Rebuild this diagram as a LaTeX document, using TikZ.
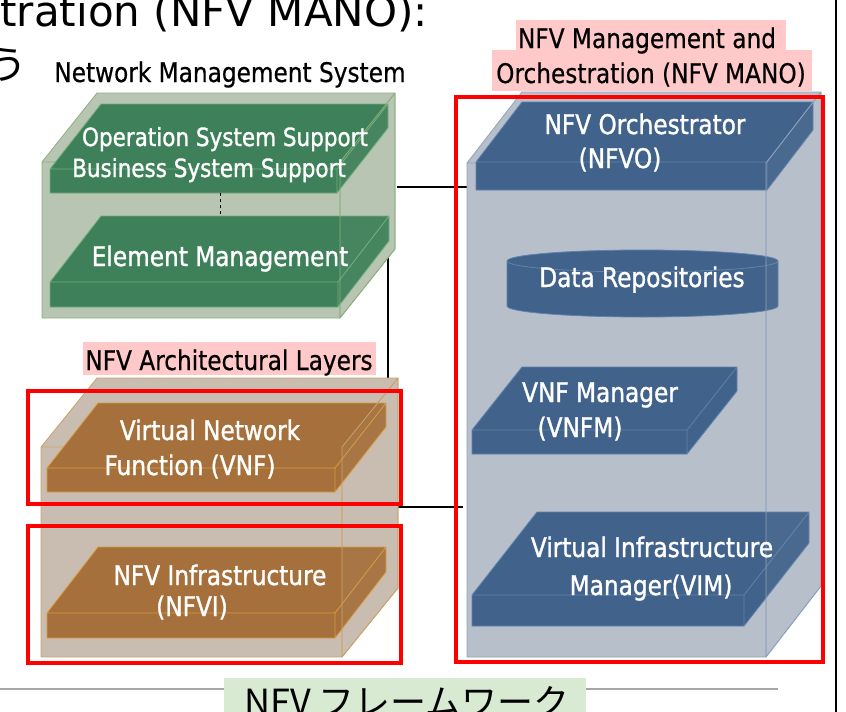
\documentclass[tikz,border=0pt]{standalone}
\usepackage{fontspec}
\newfontfamily\tah[FakeStretch=0.86,FakeBold=0.5]{DejaVu Sans}
\newfontfamily\tahw[FakeStretch=0.86,FakeBold=1.2]{DejaVu Sans}
\newfontfamily\verd{DejaVu Sans}
\newfontfamily\jpfont{Noto Sans CJK JP}

\definecolor{gOut}{HTML}{B7C5B2}
\definecolor{gOutE}{HTML}{8DB07E}
\definecolor{gSlab}{HTML}{3E805A}
\definecolor{gSlabE}{HTML}{6FB07A}
\definecolor{bOut}{HTML}{C9BDB1}
\definecolor{bOutE}{HTML}{C9A46A}
\definecolor{bSlab}{HTML}{A6703C}
\definecolor{bSlabE}{HTML}{D89C3C}
\definecolor{uOut}{HTML}{B7BFCB}
\definecolor{uOutE}{HTML}{8FA3BE}
\definecolor{uSlab}{HTML}{41628A}
\definecolor{uSlabE}{HTML}{5F82AE}
\definecolor{pinkbg}{HTML}{FFC9C9}
\definecolor{greenbg}{HTML}{D9EAD3}
\definecolor{rulegray}{HTML}{A6A6A6}

% cuboid: x y (front top-left), w h (front face), dx dy (depth), fill, edge
\newcommand{\cuboid}[8]{%
  \filldraw[fill=#7, draw=#8, line width=0.8pt, line join=round]
    (#1,#2) -- ++(#3,0) -- ++(0,#4) -- ++(-#3,0) -- cycle
    (#1,#2) -- ++(#5,-#6) -- ++(#3,0) -- ++(-#5,#6) -- cycle
    ({#1+#3},#2) -- ++(#5,-#6) -- ++(0,#4) -- ++(-#5,#6) -- cycle;
}
% faint right face and front edge laid over the inner slabs
\newcommand{\cuboidfront}[8]{%
  \filldraw[fill=#7, fill opacity=0.08, draw=#8, line width=0.8pt, line join=round]
    ({#1+#3},#2) -- ++(#5,-#6) -- ++(0,#4) -- ++(-#5,#6) -- cycle;
}

\tikzset{
  lbl/.style={font=\tah\fontsize{27}{32}\selectfont, inner sep=0pt, anchor=base},
  wtxt/.style={lbl, text=white, font=\tahw\fontsize{27}{32}\selectfont},
  smalltxt/.style={wtxt, font=\tahw\fontsize{25}{30}\selectfont},
  conn/.style={draw=black, line width=2.2pt},
  redframe/.style={draw=red, line width=4pt},
  rulel/.style={draw=rulegray, line width=2pt}
}

\begin{document}
\begin{tikzpicture}[x=1pt, y=-1pt]
\useasboundingbox (0,0) rectangle (846,712);
\fill[white] (0,0) rectangle (846,712);

% heading fragments
\node[font=\verd\fontsize{42}{48}\selectfont, inner sep=0pt, anchor=base east] (head) at (428,27) {tration (NFV MANO):};
\node[font=\jpfont\fontsize{40}{46}\selectfont, inner sep=0pt, anchor=base east] (headu) at (28,79) {う};

% right margin rule
\coordinate (rtop) at (836,0);
\coordinate (rbot) at (836,712);
\draw[draw=black, line width=2.5pt] (rtop) -- (rbot);

% connectors (behind the boxes)
\coordinate (nmsE) at (397,187);
\coordinate (manoW) at (468,187);
\coordinate (nmsS) at (388,258);
\coordinate (manoW2) at (463,507);
\draw[conn] (nmsE) -- (manoW) -- ++(0,3);
\draw[conn] (nmsS) |- (manoW2);

% Network Management System block
\node[lbl] (nmsT) at (230,82) {Network Management System};
\cuboid{42}{162}{298}{156}{55}{69}{gOut}{gOutE}
\cuboid{50}{169}{287}{24}{51}{65}{gSlab}{gSlabE}
\cuboid{50}{282}{288}{25}{51}{66}{gSlab}{gSlabE}
\coordinate (ossB) at (220,193);
\coordinate (emT) at (220,216);
\draw[black, dashed, line width=0.8pt] (ossB) -- (emT);
\cuboidfront{42}{162}{298}{156}{55}{69}{gOut}{gOutE}
\node[smalltxt] (oss) at (225,146) {Operation System Support};
\node[smalltxt] (bss) at (209,177) {Business System Support};
\node[wtxt] (em) at (220,266) {Element Management};

% NFV architectural layers block
\fill[pinkbg] (83,342) rectangle (376,375);
\node[lbl] (archT) at (229,370) {NFV Architectural Layers};
\cuboid{41}{447}{301}{210}{56}{69}{bOut}{bOutE}
\cuboid{47}{468}{288}{24}{51}{65}{bSlab}{bSlabE}
\cuboid{47}{613}{288}{25}{51}{66}{bSlab}{bSlabE}
\cuboidfront{41}{447}{301}{210}{56}{69}{bOut}{bOutE}
\node[wtxt] (vnf1) at (210,440) {Virtual Network};
\node[wtxt] (vnf2) at (190,475) {Function (VNF)};
\node[wtxt] (nfvi1) at (220,585) {NFV Infrastructure};
\node[wtxt] (nfvi2) at (192,616) {(NFVI)};
\draw[redframe] (28,391) rectangle (401,504);
\draw[redframe] (28,526) rectangle (401,663);

% NFV MANO block
\fill[pinkbg] (516,20) rectangle (786,50);
\fill[pinkbg] (492,50) rectangle (812,91);
\node[lbl] (mano1) at (647,48) {NFV Management and};
\node[lbl] (mano2) at (651,83) {Orchestration (NFV MANO)};
\cuboid{467}{163}{299}{494}{55}{71}{uOut}{uOutE}
\cuboid{476}{162}{291}{28}{46}{60}{uSlab}{uSlabE}
% data repositories cylinder
\filldraw[fill=uSlab, draw=uSlabE, line width=0.8pt]
  (507,261) -- (507,306) arc[start angle=180, end angle=0, x radius=135.5, y radius=11]
  -- (778,261) arc[start angle=0, end angle=-180, x radius=135.5, y radius=11] -- cycle;
\draw[uSlabE, line width=0.8pt] (507,261) arc[start angle=180, end angle=0, x radius=135.5, y radius=11];
\cuboid{472}{430}{215}{24}{50}{63}{uSlab}{uSlabE}
\cuboid{472}{595}{272}{31}{65}{83}{uSlab}{uSlabE}
\cuboidfront{467}{163}{299}{494}{55}{71}{uOut}{uOutE}
\node[wtxt] (nfvo1) at (645,134) {NFV Orchestrator};
\node[wtxt] (nfvo2) at (620,168) {(NFVO)};
\node[wtxt] (repo) at (642,287) {Data Repositories};
\node[wtxt] (vnfm1) at (600,402) {VNF Manager};
\node[wtxt] (vnfm2) at (580,437) {(VNFM)};
\node[wtxt] (vim1) at (652,557) {Virtual Infrastructure};
\node[wtxt] (vim2) at (651,595) {Manager(VIM)};
\draw[redframe] (456,97) rectangle (823,662);

% framework caption
\draw[rulel] (0,689) -- (224,689);
\draw[rulel] (586,689) -- (778,689);
\fill[greenbg] (224,678) rectangle (586,714);
\node[font=\jpfont\fontsize{36}{42}\selectfont, inner sep=0pt, anchor=base] (fw) at (407,715) {NFV フレームワーク};
\end{tikzpicture}
\end{document}
